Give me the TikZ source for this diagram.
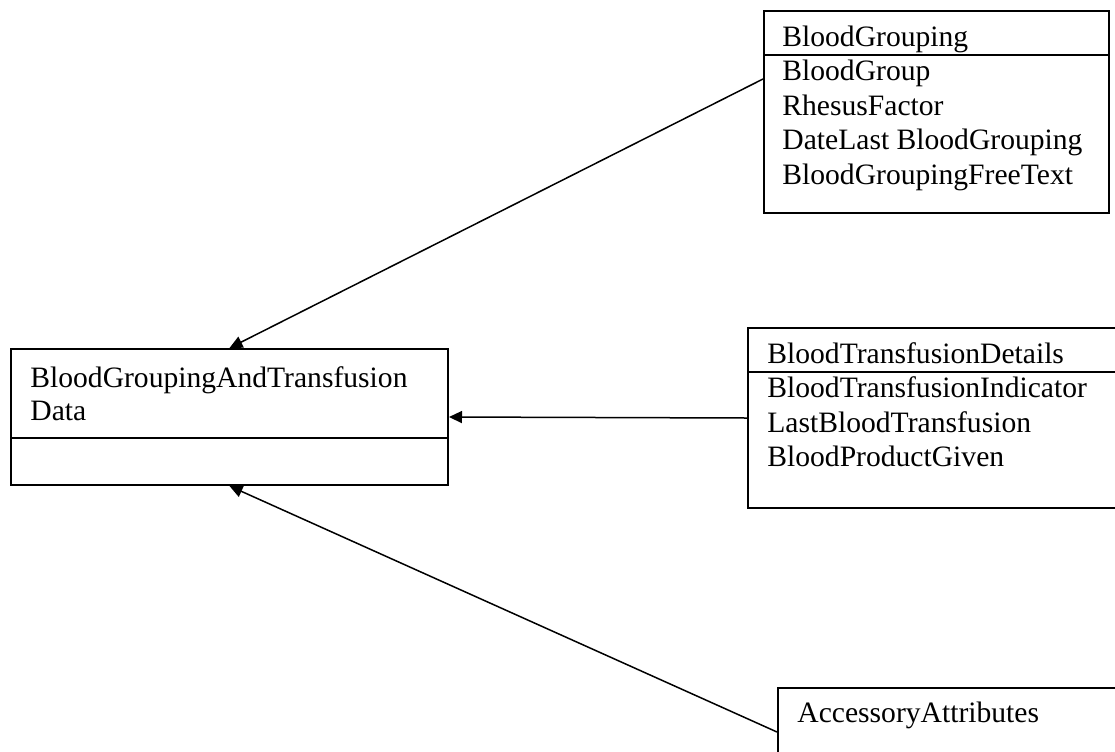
\documentclass[tikz,border=0pt]{standalone}
\usepackage{fontspec}
\setmainfont{Liberation Serif}
\usetikzlibrary{arrows.meta,positioning,calc}
\tikzset{
  cls/.style={draw, line width=1pt, anchor=north west, inner sep=0pt},
  txt/.style={anchor=base west, inner sep=0pt, font=\fontsize{14.8}{17}\selectfont},
  arrow/.style={-{Triangle[length=6.5pt,width=6pt]}, line width=0.75pt}
}

\begin{document}
\begin{tikzpicture}[x=0.5pt, y=-0.5pt]
    \useasboundingbox (0,0) rectangle (1115,751);

    % class boxes
    \node[cls, minimum width=172.5pt, minimum height=101pt] (bg) at (763,10) {};
    \node[cls, minimum width=218.5pt, minimum height=68pt] (main) at (10,348) {};
    \node[cls, minimum width=200pt, minimum height=90pt] (btd) at (747,327) {};
    \node[cls, minimum width=200pt, minimum height=60pt] (acc) at (777,687) {};

    % dividers
    \draw[line width=1pt] ([yshift=-22.5pt]bg.north west) -- ([yshift=-22.5pt]bg.north east);
    \draw[line width=1pt] ([yshift=-45pt]main.north west) -- ([yshift=-45pt]main.north east);
    \draw[line width=1pt] ([yshift=-22.5pt]btd.north west) -- ([yshift=-22.5pt]btd.north east);

    % names and attributes
    \node[txt] (bgname) at (782,46) {BloodGrouping};
    \foreach \t [count=\i] in {BloodGroup, RhesusFactor, DateLast BloodGrouping, BloodGroupingFreeText}
      \node[txt] (bg-\i) at (782,46+34.5*\i) {\t};
    \node[txt] (mainname) at (30,387) {BloodGroupingAndTransfusion};
    \node[txt] (mainname2) at (30,420) {Data};
    \node[txt] (btdname) at (767,363) {BloodTransfusionDetails};
    \foreach \t [count=\i] in {BloodTransfusionIndicator, LastBloodTransfusion, BloodProductGiven}
      \node[txt] (btd-\i) at (767,363+34.5*\i) {\t};
    \node[txt] (accname) at (797,722) {AccessoryAttributes};

    % arrows
    \draw[arrow] ([yshift=-34.5pt]bg.north west) -- (main.north);
    \draw[arrow] (btd.west) -- (main.east);
    \draw[arrow] ([yshift=-22.5pt]acc.north west) -- (main.south);
\end{tikzpicture}
\end{document}
